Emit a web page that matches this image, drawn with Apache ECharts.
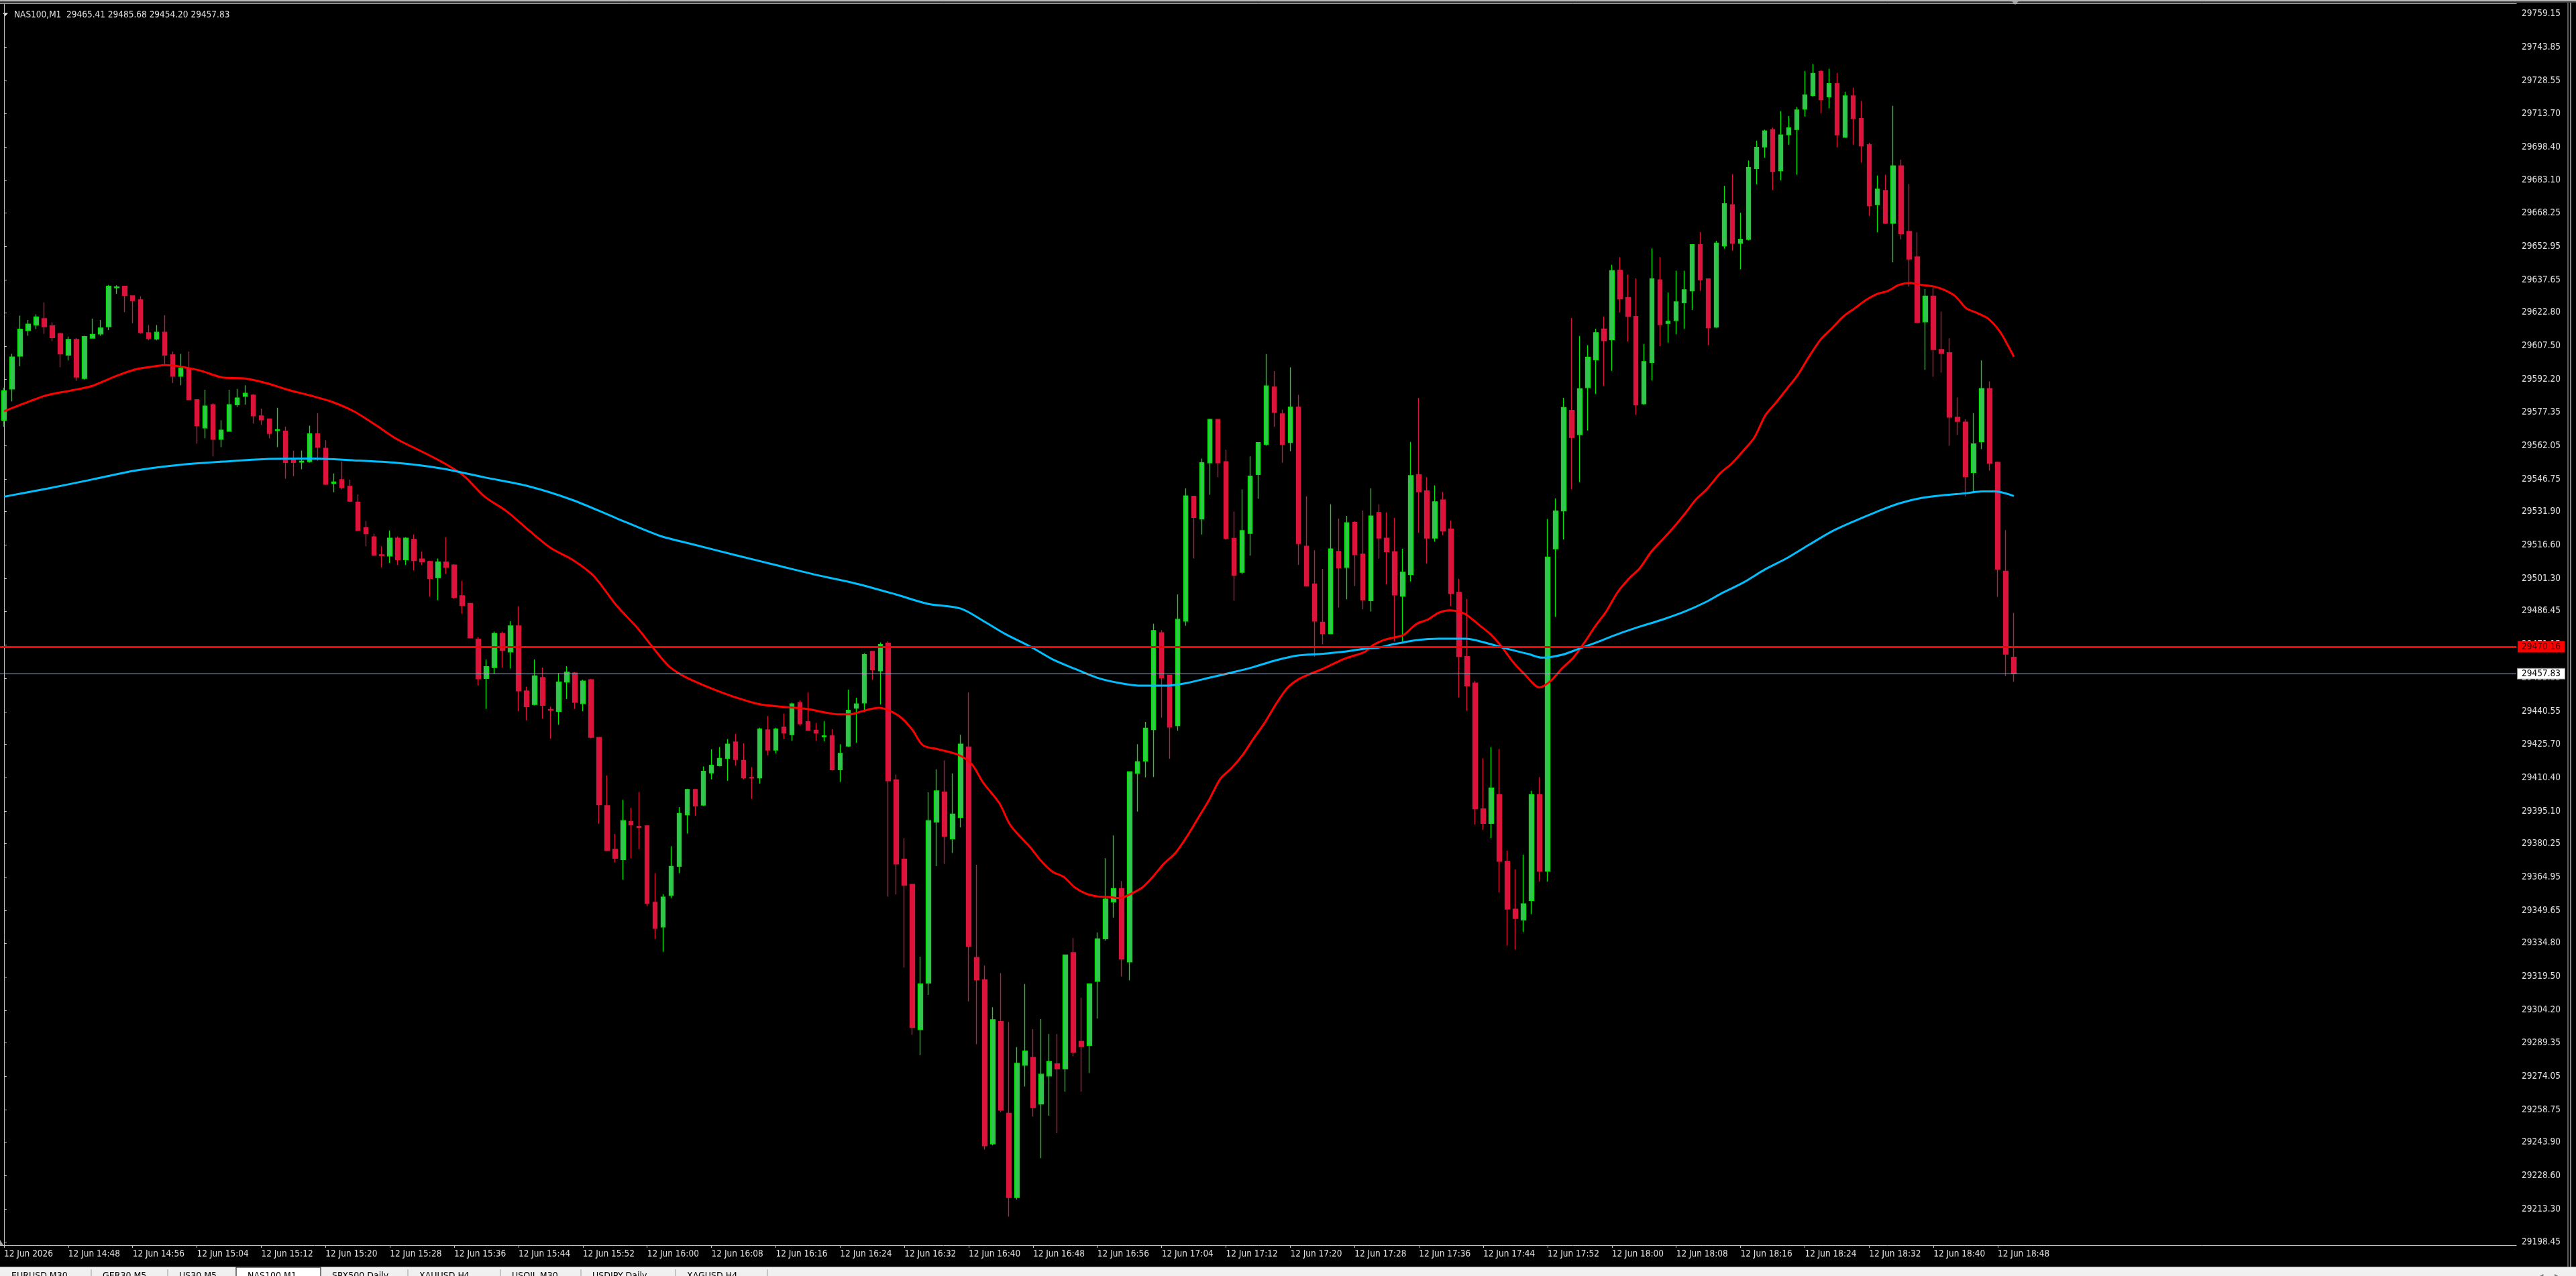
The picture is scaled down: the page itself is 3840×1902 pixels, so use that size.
<!DOCTYPE html>
<html>
<head>
<meta charset="utf-8">
<script src="https://cdn.jsdelivr.net/npm/echarts@6/dist/echarts.min.js"></script>
<style>
html,body{margin:0;padding:0;background:#000;overflow:hidden}
#chart{width:3840px;height:1902px}
</style>
</head>
<body>
<div id="chart"></div>
<script>
// ---------- DATA ----------
const symbolTitle = 'NAS100,M1';
const headerOHLC = ['29465.41', '29485.68', '29454.20', '29457.83'];

const xTickLabels = ['12 Jun 2026','12 Jun 14:48','12 Jun 14:56','12 Jun 15:04','12 Jun 15:12','12 Jun 15:20',
  '12 Jun 15:28','12 Jun 15:36','12 Jun 15:44','12 Jun 15:52','12 Jun 16:00','12 Jun 16:08','12 Jun 16:16',
  '12 Jun 16:24','12 Jun 16:32','12 Jun 16:40','12 Jun 16:48','12 Jun 16:56','12 Jun 17:04','12 Jun 17:12',
  '12 Jun 17:20','12 Jun 17:28','12 Jun 17:36','12 Jun 17:44','12 Jun 17:52','12 Jun 18:00','12 Jun 18:08',
  '12 Jun 18:16','12 Jun 18:24','12 Jun 18:32','12 Jun 18:40','12 Jun 18:48'];

const priceTicks = [29759.15,29743.85,29728.55,29713.70,29698.40,29683.10,29668.25,29652.95,29637.65,29622.80,
  29607.50,29592.20,29577.35,29562.05,29546.75,29531.90,29516.60,29501.30,29486.45,29471.15,29455.85,29440.55,
  29425.70,29410.40,29395.10,29380.25,29364.95,29349.65,29334.80,29319.50,29304.20,29289.35,29274.05,29258.75,
  29243.90,29228.60,29213.30,29198.45];

const levelLine = 29470.16;   // red horizontal level
const bidLine = 29457.83;     // current price line

const open = [
29573.6,29587.9,29602.9,29614.6,29617.1,29620.0,29616.7,29613.2,29603.3,29610.5,
29592.7,29611.1,29613.0,29616.3,29634.1,29634.8,29630.4,29628.6,29613.6,29610.7,
29613.8,29603.5,29593.7,29597.4,29583.0,29570.1,29580.7,29564.9,29568.6,29580.7,
29584.5,29585.1,29575.6,29574.2,29568.9,29568.6,29555.7,29554.5,29554.7,29567.4,
29560.8,29544.8,29546.5,29543.4,29536.2,29524.5,29520.4,29512.2,29511.6,29519.8,
29509.9,29519.2,29510.3,29509.1,29501.7,29508.9,29507.5,29493.5,29490.0,29473.6,
29455.7,29460.7,29476.3,29467.8,29479.7,29450.0,29443.8,29456.1,29441.6,29440.7,
29454.1,29458.2,29444.2,29455.1,29428.8,29397.6,29377.7,29373.0,29390.4,29388.2,
29388.4,29353.5,29342.2,29356.6,29369.9,29393.4,29405.0,29397.9,29412.6,29415.9,
29419.2,29426.7,29418.3,29410.5,29410.3,29432.2,29423.0,29433.5,29430.0,29444.7,
29436.0,29432.1,29429.1,29429.5,29414.0,29424.8,29442.1,29444.5,29468.1,29459.2,
29471.8,29409.4,29373.2,29361.7,29295.4,29316.6,29390.1,29403.8,29382.5,29392.3,
29424.4,29328.3,29318.1,29243.2,29299.1,29257.2,29218.7,29279.1,29282.7,29261.4,
29274.2,29279.8,29277.4,29330.5,29290.0,29288.1,29317.4,29336.8,29353.7,29359.8,
29326.3,29412.4,29418.0,29432.3,29476.6,29457.2,29434.2,29481.9,29538.9,29528.5,
29554.2,29574.0,29554.7,29519.7,29504.2,29521.9,29548.8,29562.6,29588.8,29576.5,
29563.4,29579.6,29516.1,29498.9,29481.4,29476.1,29513.7,29506.4,29527.0,29512.5,
29491.2,29531.5,29519.8,29513.6,29493.3,29503.2,29548.8,29541.4,29519.8,29537.2,
29524.0,29495.0,29465.7,29453.6,29396.2,29389.5,29402.7,29372.2,29350.4,29345.4,
29354.3,29402.7,29367.7,29514.9,29532.2,29578.1,29567.0,29588.5,29601.2,29615.3,
29610.4,29642.1,29629.7,29621.0,29581.1,29600.0,29637.7,29617.8,29619.1,29627.2,
29632.7,29653.8,29638.2,29616.1,29653.2,29672.0,29654.4,29656.2,29688.5,29698.4,
29706.3,29687.5,29704.0,29706.3,29715.7,29721.9,29732.9,29721.3,29727.3,29702.9,
29721.7,29711.4,29699.4,29672.0,29678.5,29663.5,29689.8,29659.8,29648.2,29618.5,
29630.3,29605.9,29604.5,29575.0,29572.8,29549.7,29563.8,29588.1,29554.4,29504.7,
29465.41];

const high = [
29588.5,29603.9,29621.4,29619.4,29622.0,29627.4,29618.3,29613.6,29611.8,29611.1,
29612.2,29620.0,29619.4,29635.4,29635.2,29634.8,29630.6,29630.2,29617.1,29617.1,
29621.6,29605.0,29603.9,29605.0,29583.0,29587.5,29581.4,29573.6,29587.5,29587.9,
29589.6,29585.5,29578.9,29574.2,29579.3,29570.7,29559.8,29559.8,29571.1,29576.9,
29564.5,29549.3,29554.7,29546.5,29539.7,29527.6,29521.8,29516.1,29523.3,29520.6,
29520.2,29521.4,29513.6,29509.5,29510.5,29520.2,29507.9,29500.3,29490.0,29474.6,
29464.4,29477.1,29477.1,29481.8,29488.6,29452.0,29464.4,29460.7,29442.8,29458.2,
29461.3,29458.6,29455.1,29455.5,29428.8,29411.4,29384.7,29400.3,29396.6,29403.8,
29388.8,29366.8,29357.2,29379.1,29397.0,29405.3,29405.3,29415.5,29423.3,29424.4,
29428.0,29430.4,29426.1,29415.2,29433.2,29438.6,29433.2,29439.7,29444.7,29445.8,
29449.3,29435.4,29436.3,29432.6,29425.7,29450.6,29446.9,29467.2,29468.1,29472.2,
29472.7,29411.8,29382.7,29361.7,29328.6,29403.7,29414.2,29418.3,29412.4,29430.0,
29449.3,29370.6,29324.6,29305.6,29321.2,29298.9,29287.4,29316.2,29295.6,29300.2,
29293.4,29293.4,29329.5,29337.2,29309.9,29316.2,29339.7,29373.6,29384.0,29363.2,
29413.1,29425.7,29435.9,29480.7,29477.8,29457.2,29494.1,29542.5,29538.9,29556.1,
29574.3,29574.0,29560.2,29531.9,29542.0,29557.1,29563.4,29603.8,29596.1,29578.4,
29597.8,29585.2,29538.9,29514.2,29505.7,29535.3,29528.7,29529.9,29527.5,29532.4,
29542.5,29535.2,29531.5,29529.0,29514.9,29563.7,29583.8,29547.6,29543.9,29540.9,
29527.8,29501.2,29492.0,29454.6,29419.3,29424.3,29423.5,29377.1,29368.5,29375.2,
29404.4,29410.6,29528.5,29537.9,29583.8,29620.3,29612.1,29607.9,29615.3,29621.0,
29644.6,29648.1,29640.1,29638.4,29608.4,29652.1,29648.1,29631.9,29641.9,29641.9,
29653.8,29659.5,29638.2,29655.5,29680.6,29686.0,29668.4,29692.2,29701.2,29706.3,
29707.2,29714.7,29712.5,29716.6,29733.1,29736.3,29733.5,29734.1,29732.2,29723.6,
29725.4,29719.4,29700.3,29685.3,29685.7,29717.2,29692.6,29681.5,29659.4,29633.5,
29634.5,29623.2,29611.0,29584.0,29574.1,29576.9,29600.9,29591.3,29554.8,29523.4,
29485.68];

const low = [
29570.5,29582.2,29598.2,29612.2,29615.2,29613.0,29609.7,29597.8,29600.9,29591.6,
29592.1,29610.9,29612.2,29614.8,29631.3,29623.0,29617.9,29613.2,29610.1,29610.1,
29599.2,29590.6,29589.6,29583.0,29562.9,29565.4,29557.1,29561.3,29568.4,29579.7,
29580.7,29572.1,29571.5,29565.4,29561.3,29546.9,29548.1,29551.2,29554.3,29555.1,
29544.0,29540.7,29542.0,29536.2,29522.9,29516.1,29511.6,29506.4,29508.5,29507.5,
29507.5,29505.0,29507.5,29493.1,29491.5,29503.4,29492.1,29485.3,29474.2,29452.4,
29441.8,29457.8,29460.7,29460.2,29440.7,29436.6,29443.4,29437.3,29428.2,29434.6,
29446.3,29441.8,29440.7,29428.4,29389.4,29377.1,29371.6,29363.8,29373.6,29377.7,
29351.8,29336.7,29330.9,29355.5,29366.8,29384.9,29392.9,29397.5,29409.6,29415.5,
29409.0,29415.9,29409.6,29400.7,29407.7,29420.6,29421.5,29428.0,29427.2,29434.1,
29431.9,29427.2,29427.0,29413.7,29408.5,29424.4,29426.3,29441.2,29455.1,29443.8,
29356.1,29357.1,29323.7,29293.0,29283.7,29311.2,29370.0,29371.0,29376.0,29387.7,
29308.2,29288.7,29240.6,29242.5,29257.7,29210.0,29217.8,29269.4,29255.6,29236.7,
29256.1,29248.1,29267.0,29283.2,29267.0,29275.5,29300.4,29336.0,29346.5,29319.6,
29317.9,29394.9,29410.5,29410.7,29437.8,29419.0,29431.8,29479.8,29510.5,29521.4,
29539.6,29547.6,29519.0,29491.2,29503.3,29511.8,29537.7,29561.9,29570.6,29554.2,
29559.5,29507.6,29497.9,29465.7,29471.3,29475.9,29488.0,29491.9,29497.9,29487.3,
29486.3,29510.4,29498.7,29472.6,29472.6,29500.0,29522.3,29508.2,29518.1,29521.1,
29488.8,29447.1,29440.9,29389.0,29386.6,29382.9,29358.0,29333.7,29332.0,29339.9,
29348.1,29363.0,29363.0,29483.8,29519.1,29542.1,29545.4,29568.9,29585.6,29589.3,
29596.2,29622.8,29609.6,29576.1,29580.6,29591.8,29607.4,29609.1,29612.9,29615.3,
29624.0,29632.7,29607.9,29615.8,29651.9,29651.0,29642.5,29655.7,29681.3,29693.5,
29678.7,29683.2,29699.4,29685.7,29712.3,29721.3,29713.8,29716.0,29698.2,29702.5,
29699.4,29691.3,29666.9,29659.4,29663.2,29645.7,29656.2,29634.6,29618.2,29596.6,
29593.4,29595.3,29561.9,29566.9,29538.8,29540.7,29560.4,29550.6,29492.9,29456.8,
29454.20];

const close = [
29587.1,29602.5,29615.2,29617.5,29620.8,29616.3,29611.3,29603.9,29610.5,29593.3,
29611.8,29612.8,29615.7,29634.8,29634.5,29630.6,29628.2,29613.6,29610.9,29613.8,
29603.3,29593.7,29597.4,29583.0,29571.1,29580.1,29564.9,29569.1,29580.7,29583.8,
29585.9,29575.6,29573.8,29567.6,29569.3,29554.3,29554.3,29554.9,29567.4,29561.3,
29544.4,29545.4,29542.8,29536.6,29523.3,29521.8,29512.0,29511.8,29519.8,29509.9,
29519.8,29509.5,29508.9,29501.3,29508.9,29506.4,29492.7,29489.0,29474.2,29455.5,
29461.1,29476.3,29468.5,29479.7,29450.0,29442.8,29456.9,29443.4,29441.2,29454.1,
29458.6,29444.8,29454.5,29428.8,29398.0,29377.1,29373.6,29390.8,29388.8,29387.6,
29353.1,29341.6,29355.9,29369.9,29394.1,29405.0,29397.5,29413.3,29416.1,29419.2,
29425.7,29418.7,29410.3,29410.2,29432.6,29423.0,29432.6,29430.8,29444.1,29435.0,
29432.1,29430.8,29429.5,29414.0,29421.5,29441.2,29444.1,29466.6,29459.7,29471.2,
29409.0,29371.0,29361.3,29296.3,29316.2,29390.8,29404.4,29383.6,29393.8,29425.7,
29333.5,29318.1,29242.3,29299.9,29258.6,29218.7,29280.0,29285.6,29259.7,29275.0,
29280.8,29277.4,29329.5,29285.1,29287.6,29316.2,29336.8,29355.0,29359.8,29327.6,
29413.1,29417.7,29433.0,29477.6,29456.0,29433.5,29482.7,29539.1,29529.2,29554.2,
29574.0,29554.2,29519.7,29502.8,29523.2,29548.1,29563.4,29589.3,29577.2,29562.6,
29579.6,29517.3,29497.9,29481.9,29476.1,29514.9,29506.2,29526.8,29512.2,29491.6,
29529.9,29519.8,29513.6,29493.8,29504.2,29548.3,29540.9,29519.8,29536.4,29523.0,
29494.5,29465.7,29452.3,29396.2,29389.5,29405.7,29372.2,29350.4,29346.1,29352.8,
29402.7,29367.7,29511.1,29532.2,29579.4,29565.7,29588.0,29602.4,29613.6,29609.9,
29641.9,29629.0,29621.0,29580.6,29600.4,29638.2,29617.3,29618.8,29627.7,29633.2,
29653.8,29637.7,29615.8,29654.5,29672.5,29654.4,29656.2,29689.0,29698.2,29705.7,
29687.2,29703.9,29707.2,29715.3,29722.2,29732.0,29720.0,29727.3,29703.9,29721.7,
29711.4,29698.8,29671.6,29679.1,29663.5,29689.8,29658.8,29647.2,29618.2,29630.3,
29605.9,29604.1,29575.0,29573.1,29547.8,29562.8,29588.1,29554.0,29505.6,29466.8,
29457.83];

// moving averages: [bar index, value]
const maRed = [[0,29577.7],[3.3,29582.4],[5.4,29585.1],[8.2,29587.1],[10.9,29589.2],[13.6,29593.3],[16.3,29596.8],
  [19,29598.4],[20.1,29598.8],[21.8,29598.2],[24.5,29596.2],[27.2,29593.1],[29.9,29592.7],[32.6,29590.6],[35.3,29587.5],
  [38.1,29584.9],[40.8,29582.0],[43.5,29577.7],[46.2,29571.5],[48.9,29564.9],[51.7,29559.8],[54.4,29554.7],[57.1,29548.5],
  [59.8,29538.7],[62.5,29532.1],[65.3,29523.3],[68,29515.3],[70.7,29509.9],[73.4,29502.3],[76.1,29489.4],[78.8,29478.7],
  [81,29468.5],[82.7,29461.3],[84.3,29457.3],[86,29454.2],[88.5,29450.4],[91.3,29446.7],[94,29443.9],[96.8,29442.8],
  [99.6,29441.9],[102.4,29440.0],[103.8,29439.3],[105.2,29439.3],[106.6,29440.6],[108.8,29442.3],[110,29441.2],
  [111.6,29437.8],[113,29432.2],[114.3,29425.2],[116.3,29423.3],[118.8,29420.7],[120.4,29416.5],[121.8,29408.1],
  [123.8,29398.8],[125.2,29388.6],[127.7,29378.4],[129,29372.4],[130.4,29367.5],[131.8,29365.1],[133.2,29360.3],
  [134.6,29357.4],[136,29356.2],[137.4,29355.9],[138.8,29355.4],[140.2,29357.4],[141.6,29360.3],[143,29365.6],
  [144.3,29371.2],[145.7,29376.0],[147.1,29383.3],[148.5,29391.8],[149.9,29400.3],[151.3,29409.9],[152.7,29414.8],
  [154.1,29420.9],[155.4,29428.1],[156.8,29435.4],[158.2,29443.9],[159.6,29451.2],[161,29455.3],[162.4,29457.7],
  [163.8,29459.7],[165.2,29462.1],[166.6,29464.5],[168,29466.2],[169.3,29467.9],[170.2,29470.7],[171.6,29473.2],
  [172.9,29474.4],[174.1,29475.6],[175.7,29480.6],[177.1,29482.6],[178.5,29485.8],[179.9,29486.8],[181.3,29485.8],
  [182.1,29484.3],[183.5,29480.1],[184.9,29475.9],[186.3,29470.2],[187.7,29463.2],[189.1,29457.8],[191,29451.6],
  [192.4,29454.6],[193.8,29460.3],[195.2,29465.2],[196.6,29472.2],[197.9,29479.4],[199.3,29486.3],[200.7,29495.0],
  [202.1,29501.2],[203.5,29506.2],[204.9,29513.6],[206.3,29519.1],[207.7,29524.8],[209.1,29531.0],[210.4,29537.2],
  [211.8,29542.1],[213.5,29549.5],[214.9,29553.8],[216.3,29559.5],[217.7,29565.6],[219.1,29575.9],[220.4,29581.6],
  [221.8,29588.1],[223.2,29594.7],[224.6,29603.1],[226,29610.6],[227.4,29615.7],[228.8,29621.0],[230.2,29624.7],
  [231.6,29628.5],[233,29631.3],[234.3,29632.6],[235.7,29635.4],[237.1,29636.3],[238.5,29635.4],[239.9,29634.8],
  [241.3,29633.2],[242.7,29630.3],[244.1,29624.7],[245.5,29622.5],[246.8,29620.0],[248.2,29614.4],[249.3,29607.5],
  [250,29602.6]];

const maBlue = [[0,29538.7],[5.4,29542.4],[10.9,29546.5],[16.3,29550.6],[21.8,29553.2],[27.2,29554.7],[32.6,29555.9],
  [38.1,29556.1],[43.5,29555.3],[48.9,29554.1],[54.4,29551.6],[59.8,29547.5],[65.3,29543.4],[70.7,29537.2],[76.1,29529.0],
  [81.6,29520.8],[85.3,29517.3],[91,29512.0],[96,29507.5],[101,29503.0],[106,29499.0],[111,29494.0],[114.9,29489.8],
  [119,29487.6],[121.8,29482.0],[124.6,29475.9],[127.7,29470.2],[130.4,29464.5],[133.2,29460.1],[136,29456.0],
  [138.8,29453.6],[141.6,29452.4],[144.3,29452.4],[147.1,29453.6],[149.9,29456.0],[152.7,29458.4],[155.4,29460.9],
  [158.2,29464.0],[161,29466.2],[163.8,29466.9],[166.6,29467.9],[169.3,29469.3],[171,29469.8],[172.9,29471.4],
  [175.7,29473.2],[178.5,29473.9],[181.8,29473.9],[184.1,29472.2],[186.8,29469.4],[189.6,29466.9],[191.3,29465.2],
  [193.8,29466.5],[196,29469.4],[197.9,29471.9],[200.7,29475.9],[203.5,29479.4],[206.3,29482.6],[209.1,29486.3],
  [211.8,29490.8],[213.5,29494.3],[216.3,29499.4],[219.1,29505.6],[221.8,29510.7],[224.6,29516.9],[227.4,29522.9],
  [230.2,29527.6],[233,29531.9],[235.7,29535.6],[238.5,29538.1],[241.3,29539.4],[244.1,29540.3],[246,29541.1],
  [247.7,29541.1],[250,29539.0]];

const tabs = ['EURUSD,M30','GER30,M5','US30,M5','NAS100,M1','SPX500,Daily','XAUUSD,H4','USOIL,M30','USDJPY,Daily','XAGUSD,H4'];
const activeTab = 'NAS100,M1';

// ---------- LAYOUT / STYLE ----------
const W = 3840, H = 1902;
const FONT = 'DejaVu Sans Condensed, DejaVu Sans, sans-serif';
const FS = 13.5;
const TXT = '#e0e0e0';
const FRAME = '#c0c0c0';
const totalSlots = 313;          // bars that fit in the plot incl. the right shift space
const gridLeft = -8, gridTop = 6, gridW = 3759, gridH = 1850;
const yMax = 29763.65, yMin = 29196.95;

// categories: one minute per bar starting 14:40
const categories = [];
for (let i = 0; i < totalSlots; i++) {
  if (i < open.length) {
    const m = 14 * 60 + 40 + i;
    const hh = String(Math.floor(m / 60)).padStart(2, '0');
    const mm = String(m % 60).padStart(2, '0');
    categories.push(hh + ':' + mm);
  } else categories.push('');
}
const lastLabelIndex = (xTickLabels.length - 1) * 8;
const showTick = (idx) => idx % 8 === 0 && idx <= lastLabelIndex;

const candleData = open.map((o, i) => [o, close[i], low[i], high[i]]);

// tab geometry (decoration)
const tabSeps = [136, 250, 352, 478, 608, 746, 866, 1007, 1144];
const tabStarts = [0, 136, 250, 352, 478, 608, 746, 866, 1007];

const graphics = [
  { type: 'rect', shape: { x: 0, y: 0, width: W, height: 2 }, style: { fill: '#b8b8b8' }, silent: true },
  { type: 'rect', shape: { x: 0, y: 2, width: W, height: 2 }, style: { fill: '#404040' }, silent: true },
  { type: 'line', shape: { x1: 0, y1: 5.5, x2: 3751.5, y2: 5.5 }, style: { stroke: FRAME, lineWidth: 1 }, silent: true },
  { type: 'line', shape: { x1: 3828, y1: 4, x2: 3828, y2: 1888 }, style: { stroke: '#b4b4b4', lineWidth: 1 }, silent: true },
  { type: 'line', shape: { x1: 3832, y1: 4, x2: 3832, y2: 1888 }, style: { stroke: '#b4b4b4', lineWidth: 1.5 }, silent: true },
  { type: 'polygon', shape: { points: [[4, 19], [12, 19], [8, 24]] }, style: { fill: '#e8e8e8' }, silent: true },
  { type: 'text', x: 21, y: 22, style: { text: symbolTitle + '  ' + headerOHLC.join(' '), fill: TXT,
      font: FS + 'px ' + FONT, textVerticalAlign: 'middle', verticalAlign: 'middle' }, silent: true },
  { type: 'polygon', shape: { points: [[2998, 1], [3010, 1], [3004, 7]] }, style: { fill: '#a8a8a8' }, silent: true },
  { type: 'polygon', shape: { points: [[0, 1848], [5, 1856], [0, 1856]] }, style: { fill: '#a8a8a8' }, silent: true },
  { type: 'rect', shape: { x: 0, y: 1888, width: W, height: 14 }, style: { fill: '#f0f0f0' }, silent: true },
  { type: 'line', shape: { x1: 0, y1: 1888.5, x2: W, y2: 1888.5 }, style: { stroke: '#9a9a9a', lineWidth: 1 }, silent: true },
  { type: 'text', x: 3786, y: 1896, style: { text: '\u25C2', fill: '#7a7a7a', font: '12px ' + FONT }, silent: true },
  { type: 'text', x: 3808, y: 1896, style: { text: '\u25B8', fill: '#7a7a7a', font: '12px ' + FONT }, silent: true }
];
tabs.forEach((t, i) => {
  const x0 = tabStarts[i], x1 = tabSeps[i];
  if (t === activeTab) {
    graphics.push({ type: 'rect', shape: { x: x0, y: 1889, width: x1 - x0, height: 14 },
      style: { fill: '#ffffff', stroke: '#505050', lineWidth: 1.5 }, silent: true });
  } else if (tabs[i + 1] !== activeTab) {
    graphics.push({ type: 'line', shape: { x1: x1, y1: 1892, x2: x1, y2: 1902 },
      style: { stroke: '#9a9a9a', lineWidth: 1 }, silent: true });
  }
  graphics.push({ type: 'text', x: x0 + 17, y: 1895, style: { text: t, fill: '#000000',
    font: '14px ' + FONT, textVerticalAlign: 'top', verticalAlign: 'top' }, silent: true });
});

const chart = echarts.init(document.getElementById('chart'), null, { renderer: 'canvas', width: W, height: H });
chart.setOption({
  animation: false,
  backgroundColor: '#000000',
  grid: { left: gridLeft, top: gridTop, width: gridW, height: gridH, containLabel: false },
  xAxis: [
    {
      type: 'category', data: categories, boundaryGap: true, gridIndex: 0, position: 'bottom',
      axisLine: { show: true, onZero: false, lineStyle: { color: FRAME, width: 1 } },
      axisTick: { show: true, alignWithLabel: true, interval: showTick, length: 4, lineStyle: { color: FRAME } },
      axisLabel: {
        show: true, interval: showTick, align: 'left', margin: 6, color: TXT,
        fontFamily: FONT, fontSize: FS, hideOverlap: false,
        formatter: (v, idx) => xTickLabels[idx / 8] || ''
      },
      splitLine: { show: false }
    },
    { type: 'value', gridIndex: 0, min: -0.5, max: totalSlots - 0.5, show: false }
  ],
  yAxis: {
    type: 'value', position: 'right', min: yMin, max: yMax, scale: true, z: 0,
    axisLine: { show: true, lineStyle: { color: FRAME, width: 1 } },
    axisTick: { show: true, customValues: priceTicks, length: 4, lineStyle: { color: FRAME } },
    axisLabel: { show: true, customValues: priceTicks, margin: 8, color: TXT, fontFamily: FONT, fontSize: FS,
      formatter: (v) => Number(v).toFixed(2), showMinLabel: true, showMaxLabel: true, hideOverlap: false },
    splitLine: { show: false }
  },
  series: [
    {
      type: 'candlestick', xAxisIndex: 0, yAxisIndex: 0, data: candleData, barWidth: 7, z: 2,
      itemStyle: { color: '#34c453', color0: '#dc143c', borderColor: '#00e600', borderColor0: '#dc143c', borderWidth: 1.3 },
      markLine: {
        silent: true, symbol: ['none', 'none'], animation: false,
        data: [
          { yAxis: levelLine, lineStyle: { color: '#ff0000', width: 3, type: 'solid' },
            label: { show: true, position: 'end', distance: 2, formatter: levelLine.toFixed(2), color: '#3a0000',
              backgroundColor: '#ff0000', width: 58, overflow: 'none', padding: [2, 6, 1, 6],
              fontFamily: FONT, fontSize: FS } },
          { yAxis: bidLine, lineStyle: { color: '#a8b2c0', width: 1.2, type: 'solid' },
            label: { show: true, position: 'end', distance: 2, formatter: bidLine.toFixed(2), color: '#000000',
              backgroundColor: '#ffffff', borderColor: '#808080', borderWidth: 1, width: 58, overflow: 'none',
              padding: [1, 6, 0, 6], fontFamily: FONT, fontSize: FS } }
        ]
      }
    },
    {
      type: 'line', xAxisIndex: 1, yAxisIndex: 0, data: maRed, smooth: 0.3, symbol: 'none', z: 4,
      lineStyle: { color: '#ff0000', width: 3 }
    },
    {
      type: 'line', xAxisIndex: 1, yAxisIndex: 0, data: maBlue, smooth: 0.3, symbol: 'none', z: 4,
      lineStyle: { color: '#00bfff', width: 3 }
    }
  ],
  graphic: graphics
});
</script>
</body>
</html>
